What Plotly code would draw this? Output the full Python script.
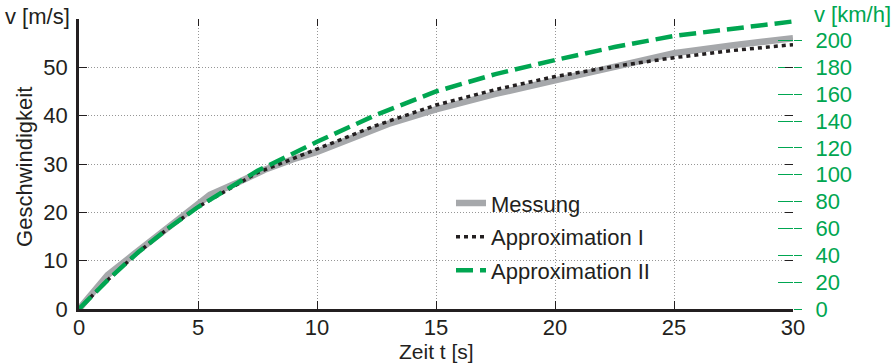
import plotly.graph_objects as go

# ---- data ----
t_mess = [0, 1.2, 2.3, 3.4, 4.5, 5.5, 6.6, 7.8, 9, 10, 11.5, 13, 15, 17.5, 20, 22.5, 25, 27.5, 30]
v_mess = [0, 7.0, 11.3, 15.5, 19.8, 23.6, 26.0, 28.8, 31.0, 32.5, 35.4, 38.3, 41.3, 44.5, 47.3, 50.2, 52.9, 54.6, 56.0]

t_approx = [0, 1.25, 2.5, 3.75, 5, 7.5, 10, 12.5, 15, 17.5, 20, 22.5, 25, 27.5, 30]
v_approx1 = [0, 6.2, 11.8, 16.7, 21.1, 28.2, 33.1, 38.0, 42.2, 45.4, 48.1, 50.2, 52.0, 53.5, 54.7]
v_approx2 = [0, 6.2, 11.8, 16.7, 21.1, 28.6, 34.6, 40.2, 45.0, 48.6, 51.5, 54.2, 56.5, 58.1, 59.5]

x_ticks = [0, 5, 10, 15, 20, 25, 30]
y_ticks = [0, 10, 20, 30, 40, 50, 60]
y_ticktext = ["0", "10", "20", "30", "40", "50", ""]
kmh_ticks = [0, 20, 40, 60, 80, 100, 120, 140, 160, 180, 200]
MS_TO_KMH = 3.6

names = ["Messung", "Approximation I", "Approximation II"]

GREEN = "rgb(0,166,81)"
GRAY = "rgb(166,168,171)"
BLACK = "rgb(35,31,32)"
FONT = "Liberation Sans"
FS = 22

fig = go.Figure()
fig.add_trace(go.Scatter(x=t_mess, y=v_mess, mode="lines", name=names[0], legendgroup="a",
                         line=dict(color=GRAY, width=6.5)))
fig.add_trace(go.Scatter(x=t_approx, y=v_approx1, mode="lines", name=names[1], legendgroup="b",
                         line=dict(color=BLACK, width=3.5, dash="4px,4px")))
fig.add_trace(go.Scatter(x=t_approx, y=v_approx2, mode="lines", name=names[2], legendgroup="c",
                         line=dict(color=GREEN, width=4.5, dash="17px,7px")))

# invisible carriers so the secondary (tick-only) axes are drawn
kmh_mess = [v * MS_TO_KMH for v in v_mess]
for xa, ya, yy in [("x2", "y", v_mess), ("x", "y2", kmh_mess), ("x", "y3", kmh_mess), ("x", "y4", v_mess)]:
    fig.add_trace(go.Scatter(x=t_mess, y=yy, xaxis=xa, yaxis=ya, mode="lines",
                             line=dict(color="rgba(0,0,0,0)", width=0), showlegend=False,
                             hoverinfo="skip"))

grid = dict(showgrid=True, gridcolor="rgb(150,150,150)", griddash="1px,2px", gridwidth=1)

fig.update_layout(
    width=893, height=364,
    margin=dict(l=79, r=100, t=19, b=55),
    paper_bgcolor="white", plot_bgcolor="white",
    font=dict(family=FONT, size=FS, color=BLACK),
    showlegend=True,
    legend=dict(x=0.521, y=0.437, xanchor="left", yanchor="top", bgcolor="rgba(0,0,0,0)",
                font=dict(size=FS), tracegroupgap=2, itemwidth=30),
    xaxis=dict(range=[0, 30], tickvals=x_ticks, ticks="inside", ticklen=8, tickcolor=BLACK,
               showline=True, linecolor=BLACK, linewidth=2.5, zeroline=False,
               ticklabelstandoff=-3, tickfont=dict(size=FS), **grid),
    xaxis2=dict(range=[0, 30], overlaying="x", side="top", anchor="y", tickvals=x_ticks,
                ticks="inside", ticklen=7, tickcolor=BLACK, showticklabels=False,
                showline=False, showgrid=False, zeroline=False),
    yaxis=dict(range=[0, 60], tickvals=y_ticks, ticktext=y_ticktext, ticks="inside", ticklen=8,
               tickcolor=BLACK, showline=True, linecolor=BLACK, linewidth=2.5, zeroline=False,
               ticklabelstandoff=4, tickfont=dict(size=FS), **grid),
    yaxis4=dict(range=[0, 60], overlaying="y", side="right", anchor="x", tickvals=y_ticks,
                ticks="inside", ticklen=8, tickcolor=BLACK, showticklabels=False,
                showline=False, showgrid=False, zeroline=False),
    yaxis2=dict(range=[0, 216], overlaying="y", side="right", anchor="x", tickvals=kmh_ticks,
                ticks="outside", ticklen=8, tickcolor=GREEN, tickfont=dict(size=FS, color=GREEN),
                ticklabelstandoff=9, showline=False, showgrid=False, zeroline=False),
    yaxis3=dict(range=[0, 216], overlaying="y", side="right", anchor="x", tickvals=kmh_ticks,
                ticks="inside", ticklen=15, tickcolor=GREEN, showticklabels=False,
                showline=False, showgrid=False, zeroline=False),
    annotations=[
        dict(text="v [m/s]", xref="paper", yref="paper", x=-0.0098, y=1.007,
             xanchor="right", yanchor="middle", showarrow=False, font=dict(size=FS, color=BLACK)),
        dict(text="v [km/h]", xref="paper", yref="paper", x=1.0266, y=1.014,
             xanchor="left", yanchor="middle", showarrow=False, font=dict(size=FS, color=GREEN)),
        dict(text="Geschwindigkeit", xref="paper", yref="paper", x=-0.0756, y=0.49,
             xanchor="center", yanchor="middle", textangle=-90, showarrow=False,
             font=dict(size=FS, color=BLACK)),
        dict(text="Zeit t [s]", xref="paper", yref="paper", x=0.5, y=-0.145,
             xanchor="center", yanchor="middle", showarrow=False, borderpad=0,
             font=dict(size=21, color=BLACK)),
    ],
)

fig.write_html("out.html")
